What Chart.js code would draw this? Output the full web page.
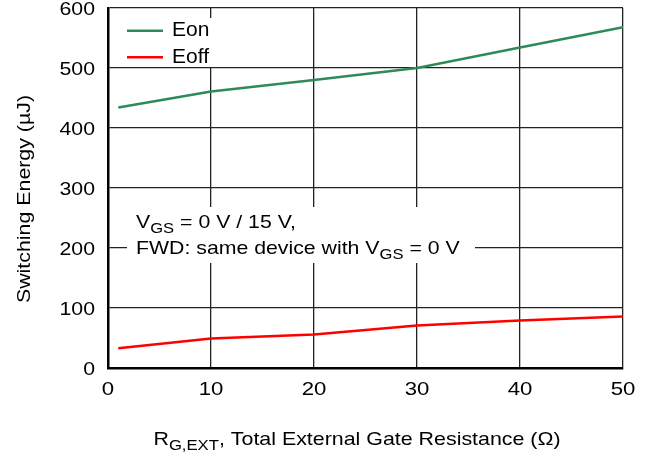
<!DOCTYPE html>
<html><head><meta charset="utf-8">
<script src="https://cdn.jsdelivr.net/npm/chart.js@4"></script>
<style>html,body{margin:0;padding:0;background:#fff}#wrap{width:647px;height:453px}</style>
</head><body><div id="wrap"><canvas id="c" width="647" height="453"></canvas></div>
<script>
const rgOn = [1, 10, 20, 25, 30, 40, 50];
const eon = [434, 461, 480, 490, 500, 534, 568];
const rgOff = [1, 10, 20, 30, 40, 50];
const eoff = [33, 49, 56, 71, 79, 86];
const xTicks = [0, 10, 20, 30, 40, 50];
const yTicks = [0, 100, 200, 300, 400, 500, 600];
const seriesNames = ['Eon', 'Eoff'];
const seriesColors = ['#2e8b57', '#ff0000'];
const FONT = '"Liberation Sans", Arial, sans-serif';

function sText(ctx, text, x, y, size, sx, align, baseline) {
  ctx.save();
  ctx.font = size + 'px ' + FONT;
  ctx.textAlign = align || 'left';
  ctx.textBaseline = baseline || 'alphabetic';
  ctx.translate(x, y);
  ctx.scale(sx, 1);
  ctx.fillText(text, 0, 0);
  ctx.restore();
}
function subText(ctx, parts, x, y, size, sx, align) {
  let total = 0;
  const widths = parts.map(p => { ctx.font = (p[1] ? size*0.78 : size) + 'px ' + FONT; const w = ctx.measureText(p[0]).width * sx; total += w; return w; });
  let cx = align === 'center' ? x - total/2 : x;
  parts.forEach((p, i) => {
    sText(ctx, p[0], cx, p[1] ? y + size*0.28 : y, p[1] ? size*0.78 : size, sx, 'left');
    cx += widths[i];
  });
}

const overlay = {
  id: 'overlay',
  afterDraw(chart) {
    const ctx = chart.ctx;
    const xs = chart.scales.x, ys = chart.scales.y;
    ctx.save();
    ctx.fillStyle = '#000';
    // tick labels
    xs.ticks.forEach(t => sText(ctx, String(t.value), xs.getPixelForValue(t.value), 390, 18.5, 1.2, 'center', 'middle'));
    ys.ticks.forEach(t => sText(ctx, String(t.value), 95, ys.getPixelForValue(t.value) + 2, 18.5, 1.15, 'right', 'middle'));
    // legend box
    ctx.fillStyle = '#fff';
    ctx.fillRect(110, 18, 112, 49);
    chart.data.datasets.forEach((d, i) => {
      const y = 30.7 + i * 26.6;
      ctx.strokeStyle = d.borderColor; ctx.lineWidth = 2.5;
      ctx.beginPath(); ctx.moveTo(127, y); ctx.lineTo(163, y); ctx.stroke();
      ctx.fillStyle = '#000';
      sText(ctx, d.label, 172, 36 + i * 26.6, 21, 1, 'left');
    });
    // annotation box
    ctx.fillStyle = '#fff';
    ctx.fillRect(127, 207, 348, 56);
    ctx.fillStyle = '#000';
    subText(ctx, [['V', false], ['GS', true], [' = 0 V / 15 V,', false]], 136, 227.5, 18.5, 1.15, 'left');
    subText(ctx, [['FWD: same device with V', false], ['GS', true], [' = 0 V', false]], 136, 254, 18.5, 1.15, 'left');
    // x title
    subText(ctx, [['R', false], ['G,EXT', true], [', Total External Gate Resistance (\u03A9)', false]], 357, 445, 18.6, 1.15, 'center');
    // y title
    ctx.translate(30, 199);
    ctx.rotate(-Math.PI/2);
    sText(ctx, 'Switching Energy (\u00B5J)', 0, 0, 17.5, 1.22, 'center', 'alphabetic');
    ctx.restore();
  }
};

new Chart(document.getElementById('c'), {
  type: 'scatter',
  data: {
    datasets: [
      { label: seriesNames[0], data: rgOn.map((x, i) => ({x, y: eon[i]})), borderColor: seriesColors[0], backgroundColor: seriesColors[0], showLine: true, pointRadius: 0, borderWidth: 2.5, tension: 0 },
      { label: seriesNames[1], data: rgOff.map((x, i) => ({x, y: eoff[i]})), borderColor: seriesColors[1], backgroundColor: seriesColors[1], showLine: true, pointRadius: 0, borderWidth: 2.5, tension: 0 }
    ]
  },
  options: {
    responsive: false, animation: false, devicePixelRatio: 1,
    layout: { padding: { left: 0, right: 24, top: 8, bottom: 0 } },
    plugins: { legend: { display: false }, tooltip: { enabled: false } },
    scales: {
      x: {
        type: 'linear', min: 0, max: 50,
        afterBuildTicks: s => { s.ticks = xTicks.map(v => ({value: v})); },
        afterFit: s => { s.height = 85; s.paddingLeft = 0; s.paddingRight = 0; s.paddingTop = 0; s.paddingBottom = 0; },
        grid: { color: '#222', lineWidth: 1.3, drawTicks: false },
        border: { color: '#000', width: 2.5 },
        ticks: { display: false }
      },
      y: {
        type: 'linear', min: 0, max: 600,
        afterBuildTicks: s => { s.ticks = yTicks.map(v => ({value: v})); },
        afterFit: s => { s.width = 108; s.paddingTop = 0; s.paddingBottom = 0; s.paddingLeft = 0; s.paddingRight = 0; },
        grid: { color: '#222', lineWidth: 1.3, drawTicks: false },
        border: { color: '#000', width: 2.5 },
        ticks: { display: false }
      }
    }
  },
  plugins: [overlay]
});
</script></body></html>
